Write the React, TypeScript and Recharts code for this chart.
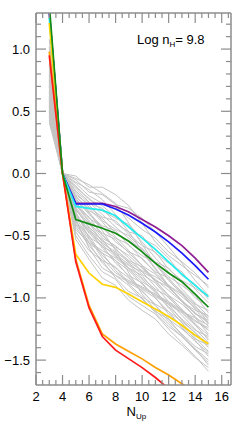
import React from 'react';
import { LineChart, Line, XAxis, YAxis } from 'recharts';

const N_UP = [3, 4, 5, 6, 7, 8, 9, 10, 11, 12, 13, 14, 15];

// highlighted models
const RED = [0.95, 0, -0.71, -1.08, -1.31, -1.42, -1.49, -1.56, -1.64, -1.73, -1.81, -1.89, -1.97];
const ORANGE = [0.98, 0, -0.69, -1.06, -1.29, -1.37, -1.43, -1.49, -1.56, -1.62, -1.69, -1.76, -1.83];
const YELLOW = [1.21, 0, -0.65, -0.8, -0.89, -0.915, -0.97, -1.03, -1.09, -1.15, -1.22, -1.3, -1.37];
const GREEN = [1.36, 0, -0.37, -0.405, -0.44, -0.48, -0.545, -0.63, -0.72, -0.8, -0.87, -0.97, -1.075];
const CYAN = [1.25, 0, -0.265, -0.28, -0.295, -0.34, -0.43, -0.52, -0.61, -0.71, -0.81, -0.9, -0.99];
const BLUE = [1.3, 0, -0.245, -0.245, -0.245, -0.285, -0.335, -0.4, -0.47, -0.55, -0.64, -0.74, -0.85];
const PURPLE = [1.3, 0, -0.24, -0.24, -0.24, -0.265, -0.31, -0.37, -0.43, -0.5, -0.58, -0.68, -0.795];

// grey model grid
const GRAY_MODELS: number[][] = [
  [1.08, 0, -0.02, -0.11, -0.11, -0.17, -0.26, -0.4, -0.55, -0.66, -0.74, -0.82, -0.9],
  [0.98, 0, -0.05, -0.15, -0.17, -0.25, -0.28, -0.36, -0.47, -0.59, -0.72, -0.86, -0.98],
  [0.92, 0, -0.08, -0.18, -0.24, -0.27, -0.36, -0.45, -0.52, -0.63, -0.71, -0.8, -0.92],
  [0.86, 0, -0.11, -0.2, -0.3, -0.36, -0.41, -0.52, -0.58, -0.68, -0.82, -0.89, -1.01],
  [0.83, 0, -0.14, -0.24, -0.28, -0.4, -0.47, -0.5, -0.64, -0.72, -0.79, -0.93, -1.04],
  [0.8, 0, -0.15, -0.27, -0.35, -0.38, -0.49, -0.58, -0.63, -0.77, -0.86, -0.92, -0.99],
  [0.78, 0, -0.17, -0.25, -0.38, -0.45, -0.5, -0.61, -0.71, -0.76, -0.88, -1.0, -1.07],
  [0.76, 0, -0.18, -0.3, -0.36, -0.48, -0.55, -0.6, -0.73, -0.83, -0.9, -0.98, -1.12],
  [0.74, 0, -0.2, -0.33, -0.42, -0.46, -0.58, -0.66, -0.72, -0.85, -0.95, -1.05, -1.1],
  [0.72, 0, -0.21, -0.31, -0.44, -0.52, -0.57, -0.69, -0.79, -0.84, -0.96, -1.07, -1.16],
  [0.7, 0, -0.23, -0.36, -0.43, -0.55, -0.63, -0.68, -0.8, -0.9, -0.97, -1.06, -1.2],
  [0.68, 0, -0.24, -0.38, -0.48, -0.53, -0.64, -0.74, -0.81, -0.92, -1.02, -1.13, -1.18],
  [0.66, 0, -0.26, -0.35, -0.5, -0.59, -0.66, -0.76, -0.86, -0.91, -1.03, -1.12, -1.23],
  [0.64, 0, -0.27, -0.41, -0.49, -0.61, -0.7, -0.75, -0.87, -0.98, -1.05, -1.15, -1.26],
  [0.62, 0, -0.29, -0.43, -0.54, -0.6, -0.72, -0.81, -0.88, -1.0, -1.1, -1.19, -1.24],
  [0.61, 0, -0.3, -0.4, -0.55, -0.65, -0.73, -0.84, -0.93, -0.99, -1.11, -1.21, -1.3],
  [0.59, 0, -0.32, -0.46, -0.53, -0.66, -0.76, -0.82, -0.95, -1.05, -1.12, -1.22, -1.33],
  [0.58, 0, -0.33, -0.48, -0.59, -0.64, -0.77, -0.87, -0.94, -1.07, -1.17, -1.26, -1.31],
  [0.56, 0, -0.35, -0.45, -0.6, -0.7, -0.78, -0.89, -0.99, -1.05, -1.18, -1.28, -1.37],
  [0.55, 0, -0.36, -0.51, -0.58, -0.72, -0.82, -0.88, -1.0, -1.11, -1.19, -1.28, -1.4],
  [0.53, 0, -0.38, -0.53, -0.64, -0.7, -0.83, -0.93, -1.0, -1.13, -1.23, -1.33, -1.38],
  [0.52, 0, -0.39, -0.5, -0.66, -0.76, -0.84, -0.95, -1.05, -1.11, -1.24, -1.35, -1.44],
  [0.5, 0, -0.41, -0.56, -0.64, -0.78, -0.88, -0.94, -1.06, -1.17, -1.25, -1.34, -1.47],
  [0.49, 0, -0.43, -0.58, -0.7, -0.75, -0.89, -0.99, -1.06, -1.19, -1.29, -1.39, -1.45],
  [0.47, 0, -0.45, -0.56, -0.72, -0.82, -0.9, -1.01, -1.11, -1.17, -1.3, -1.41, -1.5],
  [0.45, 0, -0.47, -0.62, -0.7, -0.84, -0.95, -1.0, -1.12, -1.23, -1.31, -1.41, -1.54],
  [0.43, 0, -0.5, -0.66, -0.79, -0.85, -0.99, -1.06, -1.13, -1.25, -1.36, -1.47, -1.59],
  [0.41, 0, -0.53, -0.69, -0.84, -0.9, -1.02, -1.1, -1.17, -1.29, -1.38, -1.48, -1.56],
  [1.02, 0, -0.04, -0.09, -0.16, -0.24, -0.4, -0.57, -0.73, -0.86, -0.97, -1.09, -1.21],
  [0.95, 0, -0.07, -0.13, -0.21, -0.33, -0.47, -0.62, -0.76, -0.9, -1.03, -1.16, -1.29],
  [0.6, 0, -0.22, -0.32, -0.46, -0.62, -0.8, -0.97, -1.1, -1.21, -1.31, -1.42, -1.52],
  [0.5, 0, -0.31, -0.52, -0.68, -0.8, -0.86, -0.91, -0.97, -1.03, -1.1, -1.18, -1.26],
  [0.45, 0, -0.37, -0.6, -0.76, -0.82, -0.87, -0.92, -0.98, -1.04, -1.11, -1.16, -1.22],
  [0.88, 0, -0.12, -0.23, -0.33, -0.43, -0.52, -0.63, -0.77, -0.91, -1.02, -1.12, -1.2],
  [0.7, 0, -0.19, -0.28, -0.39, -0.51, -0.62, -0.74, -0.86, -0.98, -1.09, -1.21, -1.34],
  [0.57, 0, -0.28, -0.44, -0.57, -0.67, -0.74, -0.79, -0.85, -0.94, -1.03, -1.1, -1.14],
  [0.65, 0, -0.25, -0.39, -0.52, -0.58, -0.68, -0.79, -0.91, -1.03, -1.14, -1.25, -1.36],
  [0.54, 0, -0.34, -0.47, -0.56, -0.63, -0.71, -0.78, -0.83, -0.9, -0.99, -1.08, -1.17],
  [0.75, 0, -0.1, -0.21, -0.26, -0.35, -0.43, -0.55, -0.68, -0.79, -0.93, -1.04, -1.15],
  [0.48, 0, -0.4, -0.55, -0.62, -0.68, -0.76, -0.85, -0.96, -1.08, -1.2, -1.32, -1.43],
];

const X_TICKS = [2, 2.5, 3, 3.5, 4, 4.5, 5, 5.5, 6, 6.5, 7, 7.5, 8, 8.5, 9, 9.5, 10, 10.5, 11, 11.5, 12, 12.5, 13, 13.5, 14, 14.5, 15, 15.5, 16, 16.5];
const Y_TICKS = [-1.6, -1.5, -1.4, -1.3, -1.2, -1.1, -1.0, -0.9, -0.8, -0.7, -0.6, -0.5, -0.4, -0.3, -0.2, -0.1, 0, 0.1, 0.2, 0.3, 0.4, 0.5, 0.6, 0.7, 0.8, 0.9, 1.0, 1.1, 1.2];

const HIGHLIGHTS = [
  { key: 'purple', values: PURPLE, color: '#8e1d91' },
  { key: 'blue', values: BLUE, color: '#1a1aff' },
  { key: 'cyan', values: CYAN, color: '#22eeee' },
  { key: 'yellow', values: YELLOW, color: '#ffd200' },
  { key: 'orange', values: ORANGE, color: '#ffa000' },
  { key: 'red', values: RED, color: '#ff1a1a' },
  { key: 'green', values: GREEN, color: '#148c14' },
];

const data = N_UP.map((n, i) => {
  const row: Record<string, number> = { n };
  GRAY_MODELS.forEach((g, j) => {
    row[`g${j}`] = g[i];
  });
  HIGHLIGHTS.forEach((h) => {
    row[h.key] = h.values[i];
  });
  return row;
});

const FONT = '"Liberation Sans", Arial, Helvetica, sans-serif';
const AXIS = '#8c8c8c';

const isMajorX = (v: number) => v % 2 === 0;
const isMajorY = (v: number) => Math.abs(v * 2 - Math.round(v * 2)) < 1e-6;
const fmtY = (v: number) => v.toFixed(1).replace('-', '\u2212');

const BottomTick = ({ x, y, payload }: any) => {
  const v = payload.value;
  const major = isMajorX(v);
  return (
    <g>
      <line x1={x} y1={y} x2={x} y2={y - (major ? 10 : 5)} stroke={AXIS} strokeWidth={1.2} />
      {major && (
        <text x={x} y={y + 16} textAnchor="middle" fontSize={13} fill="#000" fontFamily={FONT}>
          {v}
        </text>
      )}
    </g>
  );
};

const TopTick = ({ x, y, payload }: any) => {
  const major = isMajorX(payload.value);
  return <line x1={x} y1={y} x2={x} y2={y + (major ? 10 : 5)} stroke={AXIS} strokeWidth={1.2} />;
};

const LeftTick = ({ x, y, payload }: any) => {
  const v = payload.value;
  const major = isMajorY(v);
  return (
    <g>
      <line x1={x} y1={y} x2={x + (major ? 10 : 5)} y2={y} stroke={AXIS} strokeWidth={1.2} />
      {major && (
        <text x={x - 6} y={y + 4.5} textAnchor="end" fontSize={13} fill="#000" fontFamily={FONT}>
          {fmtY(v)}
        </text>
      )}
    </g>
  );
};

const RightTick = ({ x, y, payload }: any) => {
  const major = isMajorY(payload.value);
  return <line x1={x} y1={y} x2={x - (major ? 10 : 5)} y2={y} stroke={AXIS} strokeWidth={1.2} />;
};

export default function App() {
  return (
    <div style={{ position: 'absolute', left: 0, top: 0, width: 240, height: 428, background: '#fff' }}>
      <LineChart width={240} height={428} data={data} margin={{ top: 12, right: 0, bottom: 0, left: 0 }}>
        <XAxis
          dataKey="n"
          type="number"
          domain={[2, 16.7]}
          allowDataOverflow
          ticks={X_TICKS}
          interval={0}
          height={43}
          tickSize={0}
          tickMargin={0}
          tickLine={false}
          axisLine={{ stroke: AXIS, strokeWidth: 1.5 }}
          tick={<BottomTick />}
        />
        <XAxis
          xAxisId="top"
          orientation="top"
          dataKey="n"
          type="number"
          domain={[2, 16.7]}
          allowDataOverflow
          ticks={X_TICKS}
          interval={0}
          height={1}
          tickSize={0}
          tickMargin={0}
          tickLine={false}
          axisLine={{ stroke: AXIS, strokeWidth: 1.5 }}
          tick={<TopTick />}
        />
        <YAxis
          type="number"
          domain={[-1.7, 1.29]}
          allowDataOverflow
          ticks={Y_TICKS}
          interval={0}
          width={36}
          tickSize={0}
          tickMargin={0}
          tickLine={false}
          axisLine={{ stroke: AXIS, strokeWidth: 1.5 }}
          tick={<LeftTick />}
        />
        <YAxis
          yAxisId="right"
          orientation="right"
          type="number"
          domain={[-1.7, 1.29]}
          allowDataOverflow
          ticks={Y_TICKS}
          interval={0}
          width={9}
          tickSize={0}
          tickMargin={0}
          tickLine={false}
          axisLine={{ stroke: AXIS, strokeWidth: 1.5 }}
          tick={<RightTick />}
        />
        {GRAY_MODELS.map((_, j) => (
          <Line
            key={`g${j}`}
            dataKey={`g${j}`}
            type="linear"
            stroke="#c4c4c4"
            strokeWidth={1}
            dot={false}
            activeDot={false}
            isAnimationActive={false}
          />
        ))}
        {HIGHLIGHTS.map((h) => (
          <Line
            key={h.key}
            dataKey={h.key}
            type="linear"
            stroke={h.color}
            strokeWidth={1.7}
            dot={false}
            activeDot={false}
            isAnimationActive={false}
          />
        ))}
      </LineChart>
      <svg width={240} height={428} style={{ position: 'absolute', left: 0, top: 0, pointerEvents: 'none' }}>
        <text x={137} y={43.5} fontSize={13} fontFamily={FONT} fill="#000">
          <tspan fill="#000">Log n</tspan>
          <tspan fill="#000" fontSize={8} dy={3}>H</tspan>
          <tspan fill="#000" dy={-3}>= 9.8</tspan>
        </text>
        <text x={126.5} y={415.5} fontSize={13} fontFamily={FONT} fill="#000">
          <tspan fill="#000">N</tspan>
          <tspan fill="#000" fontSize={8} dy={3}>Up</tspan>
        </text>
      </svg>
    </div>
  );
}
